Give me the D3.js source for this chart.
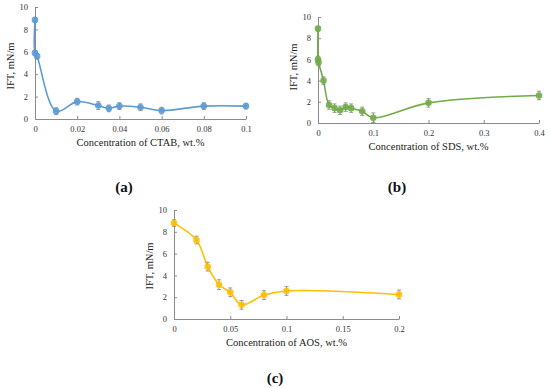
<!DOCTYPE html>
<html><head><meta charset="utf-8">
<script src="https://cdn.jsdelivr.net/npm/d3@7"></script>
<style>body{margin:0;background:#fff}svg{display:block}</style>
</head><body>
<svg id="c" width="550" height="388"></svg>
<script>
// ---- data ----
const ctabConc = [0, 0, 0.001, 0.01, 0.02, 0.03, 0.035, 0.04, 0.05, 0.06, 0.08, 0.1];
const ctabIFT  = [8.85, 5.9, 5.6, 0.7, 1.55, 1.2, 0.95, 1.15, 1.05, 0.75, 1.15, 1.15];
const ctabErr  = [0.2, 0.2, 0.25, 0.3, 0.3, 0.35, 0.3, 0.3, 0.3, 0.3, 0.3, 0.25];

const sdsConc = [0, 0, 0.001, 0.01, 0.02, 0.03, 0.04, 0.05, 0.06, 0.08, 0.1, 0.2, 0.4];
const sdsIFT  = [8.9, 6.0, 5.7, 4.0, 1.7, 1.4, 1.2, 1.5, 1.4, 1.1, 0.5, 1.9, 2.6];
const sdsErr  = [0.2, 0.3, 0.3, 0.35, 0.4, 0.4, 0.4, 0.4, 0.4, 0.4, 0.45, 0.4, 0.4];

const aosConc = [0, 0.02, 0.03, 0.04, 0.05, 0.06, 0.08, 0.1, 0.2];
const aosIFT  = [8.8, 7.25, 4.8, 3.15, 2.45, 1.3, 2.2, 2.57, 2.25];
const aosErr  = [0.3, 0.35, 0.4, 0.45, 0.4, 0.4, 0.4, 0.4, 0.4];

const ctabTicks = [0, 0.02, 0.04, 0.06, 0.08, 0.1];
const sdsTicks  = [0, 0.1, 0.2, 0.3, 0.4];
const aosTicks  = [0, 0.05, 0.1, 0.15, 0.2];
const yTicks    = [0, 2, 4, 6, 8, 10];

const panels = [
  {conc: ctabConc, ift: ctabIFT, err: ctabErr, ticks: ctabTicks, xmax: 0.1, color: "#5B9BD5",
   xr: [35, 246], yr: [119, 7], title: "Concentration of CTAB, wt.%", ytitleY: 66, label: "(a)", lx: 124, ly: 192},
  {conc: sdsConc, ift: sdsIFT, err: sdsErr, ticks: sdsTicks, xmax: 0.4, color: "#70AD47",
   xr: [318, 539], yr: [123, 17], title: "Concentration of SDS, wt.%", ytitleY: 67, label: "(b)", lx: 397, ly: 192},
  {conc: aosConc, ift: aosIFT, err: aosErr, ticks: aosTicks, xmax: 0.2, color: "#FFC000",
   xr: [174, 399], yr: [319, 210], title: "Concentration of AOS, wt.%", ytitleY: 266, label: "(c)", lx: 275, ly: 383}
];

const svg = d3.select("#c");
const axisColor = "#8c8c8c";
const fontTick = "Liberation Serif, Times New Roman, serif";

panels.forEach(p => {
  const x = d3.scaleLinear().domain([0, p.xmax]).range(p.xr);
  const y = d3.scaleLinear().domain([0, 10]).range(p.yr);
  const g = svg.append("g");

  const xa = g.append("g").attr("transform", `translate(0,${p.yr[0]})`)
    .call(d3.axisBottom(x).tickValues(p.ticks).tickFormat(d => String(+d.toFixed(3)))
      .tickSizeInner(-3).tickSizeOuter(0).tickPadding(7));
  const ya = g.append("g").attr("transform", `translate(${p.xr[0]},0)`)
    .call(d3.axisLeft(y).tickValues(yTicks).tickFormat(d3.format("d"))
      .tickSizeInner(-3).tickSizeOuter(0).tickPadding(7));
  [xa, ya].forEach(a => {
    a.selectAll("path, line").attr("stroke", axisColor).attr("stroke-width", 1);
    a.selectAll("text").attr("fill", "#333").attr("font-family", fontTick).attr("font-size", 8.5);
  });

  g.append("text").attr("x", (p.xr[0] + p.xr[1]) / 2).attr("y", p.yr[0] + 27)
    .attr("text-anchor", "middle").attr("font-family", fontTick).attr("font-size", 10.5)
    .attr("fill", "#222").text(p.title);
  g.append("text").attr("transform", `translate(${p.xr[0] - 21},${p.ytitleY}) rotate(-90)`)
    .attr("text-anchor", "middle").attr("font-family", fontTick).attr("font-size", 10.5)
    .attr("fill", "#222").text("IFT, mN/m");

  const pts = p.conc.map((c, i) => ({c, v: p.ift[i], e: p.err[i]}));

  const line = d3.line().x(d => x(d.c)).y(d => y(d.v)).curve(d3.curveCatmullRom.alpha(0.5));
  g.append("path").datum(pts).attr("d", line).attr("fill", "none")
    .attr("stroke", p.color).attr("stroke-width", 1.6);

  const eb = g.append("g").attr("stroke", "#808080").attr("stroke-width", 0.8);
  pts.forEach(d => {
    eb.append("line").attr("x1", x(d.c)).attr("x2", x(d.c)).attr("y1", y(d.v - d.e)).attr("y2", y(d.v + d.e));
    eb.append("line").attr("x1", x(d.c) - 2).attr("x2", x(d.c) + 2).attr("y1", y(d.v - d.e)).attr("y2", y(d.v - d.e));
    eb.append("line").attr("x1", x(d.c) - 2).attr("x2", x(d.c) + 2).attr("y1", y(d.v + d.e)).attr("y2", y(d.v + d.e));
  });

  g.append("g").selectAll("circle").data(pts).join("circle")
    .attr("cx", d => x(d.c)).attr("cy", d => y(d.v)).attr("r", 3.3)
    .attr("fill", p.color).attr("fill-opacity", 0.9);

  g.append("text").attr("x", p.lx).attr("y", p.ly).attr("text-anchor", "middle")
    .attr("font-family", "Liberation Serif, serif").attr("font-size", 15).attr("font-weight", "bold")
    .attr("fill", "#111").text(p.label);
});
</script>
</body></html>
